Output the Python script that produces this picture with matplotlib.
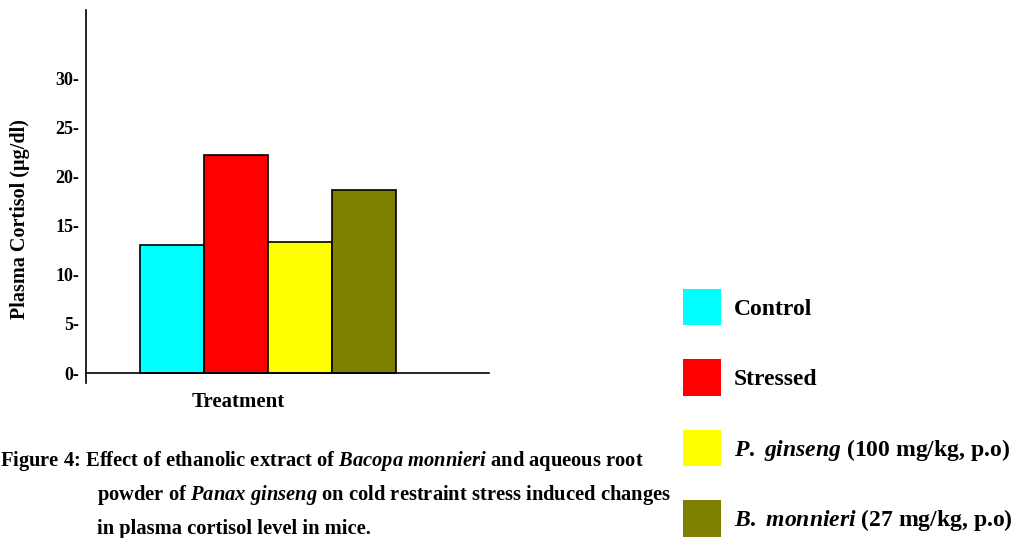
import matplotlib
matplotlib.use('Agg')
import matplotlib.pyplot as plt
import numpy as np
from matplotlib.patches import Patch

# data
groups = ['Control', 'Stressed', 'P. ginseng', 'B. monnieri']
cortisol = [13.0, 22.2, 13.4, 18.7]
colors = ['#00FFFF', '#FF0000', '#FFFF00', '#808000']
legend_labels = ['Control', 'Stressed',
                 r'$P.\ ginseng$ (100 mg/kg, p.o)',
                 r'$B.\ monnieri$ (27 mg/kg, p.o)']
yticks = [0, 5, 10, 15, 20, 25, 30]
caption = [r'Figure 4: Effect of ethanolic extract of $Bacopa\ monnieri$ and aqueous root',
           r'powder of $Panax\ ginseng$ on cold restraint stress induced changes',
           r'in plasma cortisol level in mice.']

plt.rcParams['font.family'] = 'Liberation Serif'
plt.rcParams['font.weight'] = 'bold'
plt.rcParams['mathtext.fontset'] = 'custom'
plt.rcParams['mathtext.it'] = 'Liberation Serif:italic:bold'
plt.rcParams['mathtext.rm'] = 'Liberation Serif:bold'

W, H = 1029, 538
fig = plt.figure(figsize=(W/100, H/100), dpi=100)
ax = fig.add_axes([86/W, (H-383)/H, 403/W, 373/H])

x = 1.34 + np.arange(len(groups))
ax.bar(x, cortisol, width=1.0, color=colors, edgecolor='black', linewidth=1.2)
ax.set_xlim(0, 403/64)
ax.set_ylim(-10/9.81, 363/9.81)

ax.spines['top'].set_visible(False)
ax.spines['right'].set_visible(False)
ax.spines['bottom'].set_position(('data', 0))
for s in ['left', 'bottom']:
    ax.spines[s].set_linewidth(1.2)
ax.set_xticks([])
ax.set_yticks(yticks)
ax.set_yticklabels([str(v) + '-' for v in yticks], fontsize=13, fontweight='bold')
ax.tick_params(axis='y', length=0, pad=5)

fig.text(20/W, 1-219/H, 'Plasma Cortisol (µg/dl)', rotation=90, ha='center', va='center',
         fontsize=14.5, fontweight='bold')
fig.text(238/W, 1-402/H, 'Treatment', ha='center', va='center', fontsize=15, fontweight='bold')

# legend
handles = [Patch(facecolor=c, edgecolor='none') for c in colors]
fig.legend(handles, legend_labels, loc='upper left', bbox_to_anchor=(683/W, 1-289/H),
           frameon=False, borderpad=0, borderaxespad=0, fontsize=17,
           handlelength=1.61, handleheight=2.0, labelspacing=1.44, handletextpad=0.55)

# caption
fig.text(0, 1-461/H, caption[0], ha='left', va='center', fontsize=14.8)
fig.text(97/W, 1-495/H, caption[1], ha='left', va='center', fontsize=14.8)
fig.text(97/W, 1-529/H, caption[2], ha='left', va='center', fontsize=14.8)

plt.savefig('out.png', dpi=100)
